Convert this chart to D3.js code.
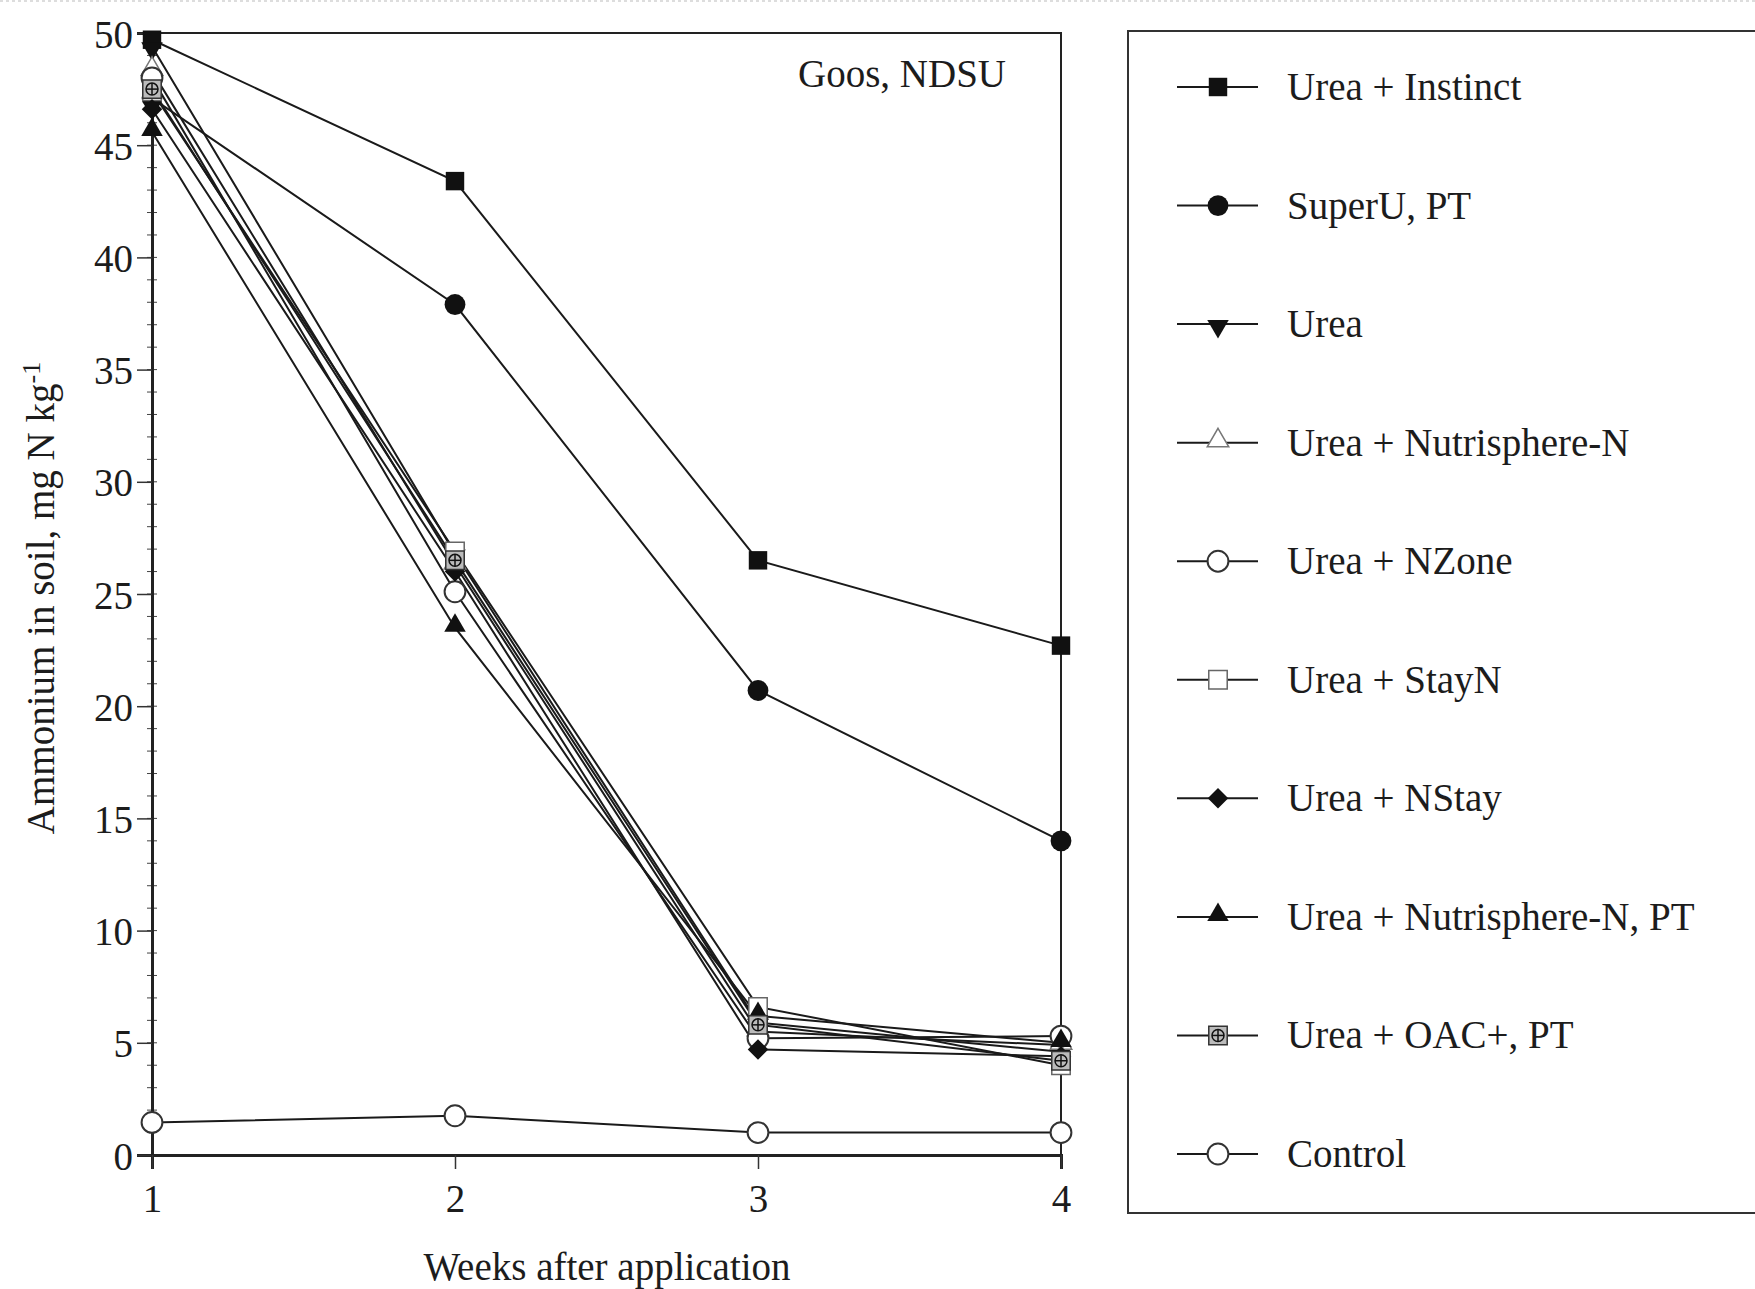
<!DOCTYPE html>
<html>
<head>
<meta charset="utf-8">
<script src="https://cdn.jsdelivr.net/npm/d3@7"></script>
<style>
  body { margin: 0; background: #fff; }
  text { font-family: "Liberation Serif", "Times New Roman", serif; fill: #1c1c1c; }
</style>
</head>
<body>
<svg id="chart" width="1755" height="1289"></svg>
<script>
// weeks after application
var weeks = [1, 2, 3, 4]

// treatment names (legend order)
var treatments = [
  "Urea + Instinct",
  "SuperU, PT",
  "Urea",
  "Urea + Nutrisphere-N",
  "Urea + NZone",
  "Urea + StayN",
  "Urea + NStay",
  "Urea + Nutrisphere-N, PT",
  "Urea + OAC+, PT",
  "Control"
]

// ammonium in soil, mg N/kg, per treatment and week
var instinct = [49.7, 43.4, 26.5, 22.7]
var superU = [47.1, 37.9, 20.7, 14.0]
var urea = [49.4, 26.8, 5.9, 4.6]
var nutrisphere = [48.3, 26.3, 5.5, 4.9]
var nzone = [48.0, 25.1, 5.2, 5.3]
var stayN = [47.4, 26.9, 6.6, 4.0]
var nStay = [46.6, 26.0, 4.7, 4.4]
var nutrispherePT = [45.6, 23.5, 6.2, 5.0]
var oacPT = [47.5, 26.5, 5.8, 4.2]
var control = [1.45, 1.75, 1.0, 1.0]

var seriesValues = [instinct, superU, urea, nutrisphere, nzone, stayN, nStay, nutrispherePT, oacPT, control]
var markerTypes = ["squareFilled", "circleFilled", "triDownFilled", "triOpen", "circleOpen",
  "squareOpen", "diamondFilled", "triFilled", "squareCircle", "circleOpen"]

var yTicks = [0, 5, 10, 15, 20, 25, 30, 35, 40, 45, 50]

var margin = { top: 33, left: 152 },
  width = 1061 - 152,
  height = 1155 - 33

var svg = d3.select("#chart")

// faint dotted border at top of the image
svg.append("line")
  .attr("x1", 0).attr("x2", 1755).attr("y1", 1).attr("y2", 1)
  .attr("stroke", "#bbb").attr("stroke-dasharray", "3,3")

var g = svg.append("g")
  .attr("transform", "translate(" + margin.left + "," + margin.top + ")")

var x = d3.scaleLinear().domain([1, 4]).range([0, width])
var y = d3.scaleLinear().domain([0, 50]).range([height, 0])

// frame
g.append("rect")
  .attr("x", 0).attr("y", 0)
  .attr("width", width).attr("height", height)
  .attr("fill", "none")
  .attr("stroke", "#222")
  .attr("stroke-width", 2)

// minor y ticks, both sides of the axis
var minor = d3.range(0, 51, 1)
g.selectAll(".minorY")
  .data(minor)
  .enter()
  .append("line")
  .attr("x1", -5).attr("x2", 5)
  .attr("y1", d => y(d)).attr("y2", d => y(d))
  .attr("stroke", "#444").attr("stroke-width", 1)

// y axis
var yAxis = g.append("g")
  .call(d3.axisLeft(y).tickValues(yTicks).tickSize(15).tickPadding(4))
yAxis.select(".domain").attr("stroke", "#222").attr("stroke-width", 3)
yAxis.selectAll(".tick line").attr("stroke", "#333").attr("stroke-width", 1.5)
yAxis.selectAll("text")
  .style("font-family", "Liberation Serif")
  .style("font-size", "39px")
  .attr("fill", "#1c1c1c")
  .attr("dy", "0.36em")

// x axis
var xAxis = g.append("g")
  .attr("transform", "translate(0," + height + ")")
  .call(d3.axisBottom(x).tickValues(weeks).tickFormat(d3.format("d")).tickSize(14).tickPadding(15))
xAxis.select(".domain").attr("stroke", "#222").attr("stroke-width", 3)
xAxis.selectAll(".tick line").attr("stroke", "#333").attr("stroke-width", 1.5)
xAxis.selectAll("text")
  .style("font-family", "Liberation Serif")
  .style("font-size", "39px")
  .attr("fill", "#1c1c1c")

// axis titles
svg.append("text")
  .attr("x", 607).attr("y", 1280)
  .attr("text-anchor", "middle")
  .style("font-size", "39px")
  .text("Weeks after application")

var yl = svg.append("text")
  .attr("transform", "translate(54,598) rotate(-90)")
  .attr("text-anchor", "middle")
  .style("font-size", "39px")
yl.append("tspan").text("Ammonium in soil, mg N kg")
yl.append("tspan").attr("dy", "-0.55em").style("font-size", "26px").text("-1")

// site label
svg.append("text")
  .attr("x", 902).attr("y", 87)
  .attr("text-anchor", "middle")
  .style("font-size", "39px")
  .text("Goos, NDSU")

// draw a marker of a given type at the origin of sel
function drawMarker(sel, type) {
  var sq = d3.symbol().type(d3.symbolSquare).size(340)
  var ci = d3.symbol().type(d3.symbolCircle).size(340)
  var tri = d3.symbol().type(d3.symbolTriangle).size(200)
  var dia = d3.symbol().type(d3.symbolSquare).size(210)
  var blk = "#111"
  if (type == "squareFilled") sel.append("path").attr("d", sq).attr("fill", blk)
  if (type == "circleFilled") sel.append("path").attr("d", ci).attr("fill", blk)
  if (type == "triDownFilled") sel.append("path").attr("d", tri).attr("transform", "rotate(180) translate(0,-2)").attr("fill", blk)
  if (type == "triFilled") sel.append("path").attr("d", tri).attr("transform", "translate(0,-2)").attr("fill", blk)
  if (type == "triOpen") sel.append("path").attr("d", tri).attr("transform", "translate(0,-2)")
    .attr("fill", "#fff").attr("stroke", "#777").attr("stroke-width", 1.5)
  if (type == "circleOpen") sel.append("path").attr("d", ci)
    .attr("fill", "#fff").attr("stroke", "#333").attr("stroke-width", 2)
  if (type == "squareOpen") sel.append("path").attr("d", sq)
    .attr("fill", "#fff").attr("stroke", "#666").attr("stroke-width", 1.5)
  if (type == "diamondFilled") sel.append("path").attr("d", dia).attr("transform", "rotate(45)").attr("fill", blk)
  if (type == "squareCircle") {
    sel.append("path").attr("d", sq).attr("fill", "#bbb").attr("stroke", "#333").attr("stroke-width", 1.5)
    sel.append("circle").attr("r", 6).attr("fill", "none").attr("stroke", "#111").attr("stroke-width", 1.5)
    sel.append("line").attr("x1", -6).attr("x2", 6).attr("stroke", "#111").attr("stroke-width", 1.5)
    sel.append("line").attr("y1", -6).attr("y2", 6).attr("stroke", "#111").attr("stroke-width", 1.5)
  }
}

var line = d3.line()
  .x((d, i) => x(weeks[i]))
  .y(d => y(d))

// lines
g.selectAll(".series")
  .data(seriesValues)
  .enter()
  .append("path")
  .attr("d", d => line(d))
  .attr("fill", "none")
  .attr("stroke", "#1a1a1a")
  .attr("stroke-width", 2)

// markers
seriesValues.forEach(function (vals, si) {
  vals.forEach(function (v, i) {
    var m = g.append("g").attr("transform", "translate(" + x(weeks[i]) + "," + y(v) + ")")
    drawMarker(m, markerTypes[si])
  })
})

// legend
var legend = svg.append("g")
legend.append("rect")
  .attr("x", 1128).attr("y", 31)
  .attr("width", 700).attr("height", 1182)
  .attr("fill", "none")
  .attr("stroke", "#333")
  .attr("stroke-width", 2)

var legendY = d3.scalePoint().domain(treatments).range([87, 1154])

treatments.forEach(function (name, i) {
  var ly = legendY(name)
  legend.append("line")
    .attr("x1", 1177).attr("x2", 1258)
    .attr("y1", ly).attr("y2", ly)
    .attr("stroke", "#1a1a1a").attr("stroke-width", 2)
  var m = legend.append("g").attr("transform", "translate(1218," + ly + ")")
  drawMarker(m, markerTypes[i])
  legend.append("text")
    .attr("x", 1287).attr("y", ly + 13)
    .style("font-size", "39px")
    .text(name)
})
</script>
</body>
</html>
